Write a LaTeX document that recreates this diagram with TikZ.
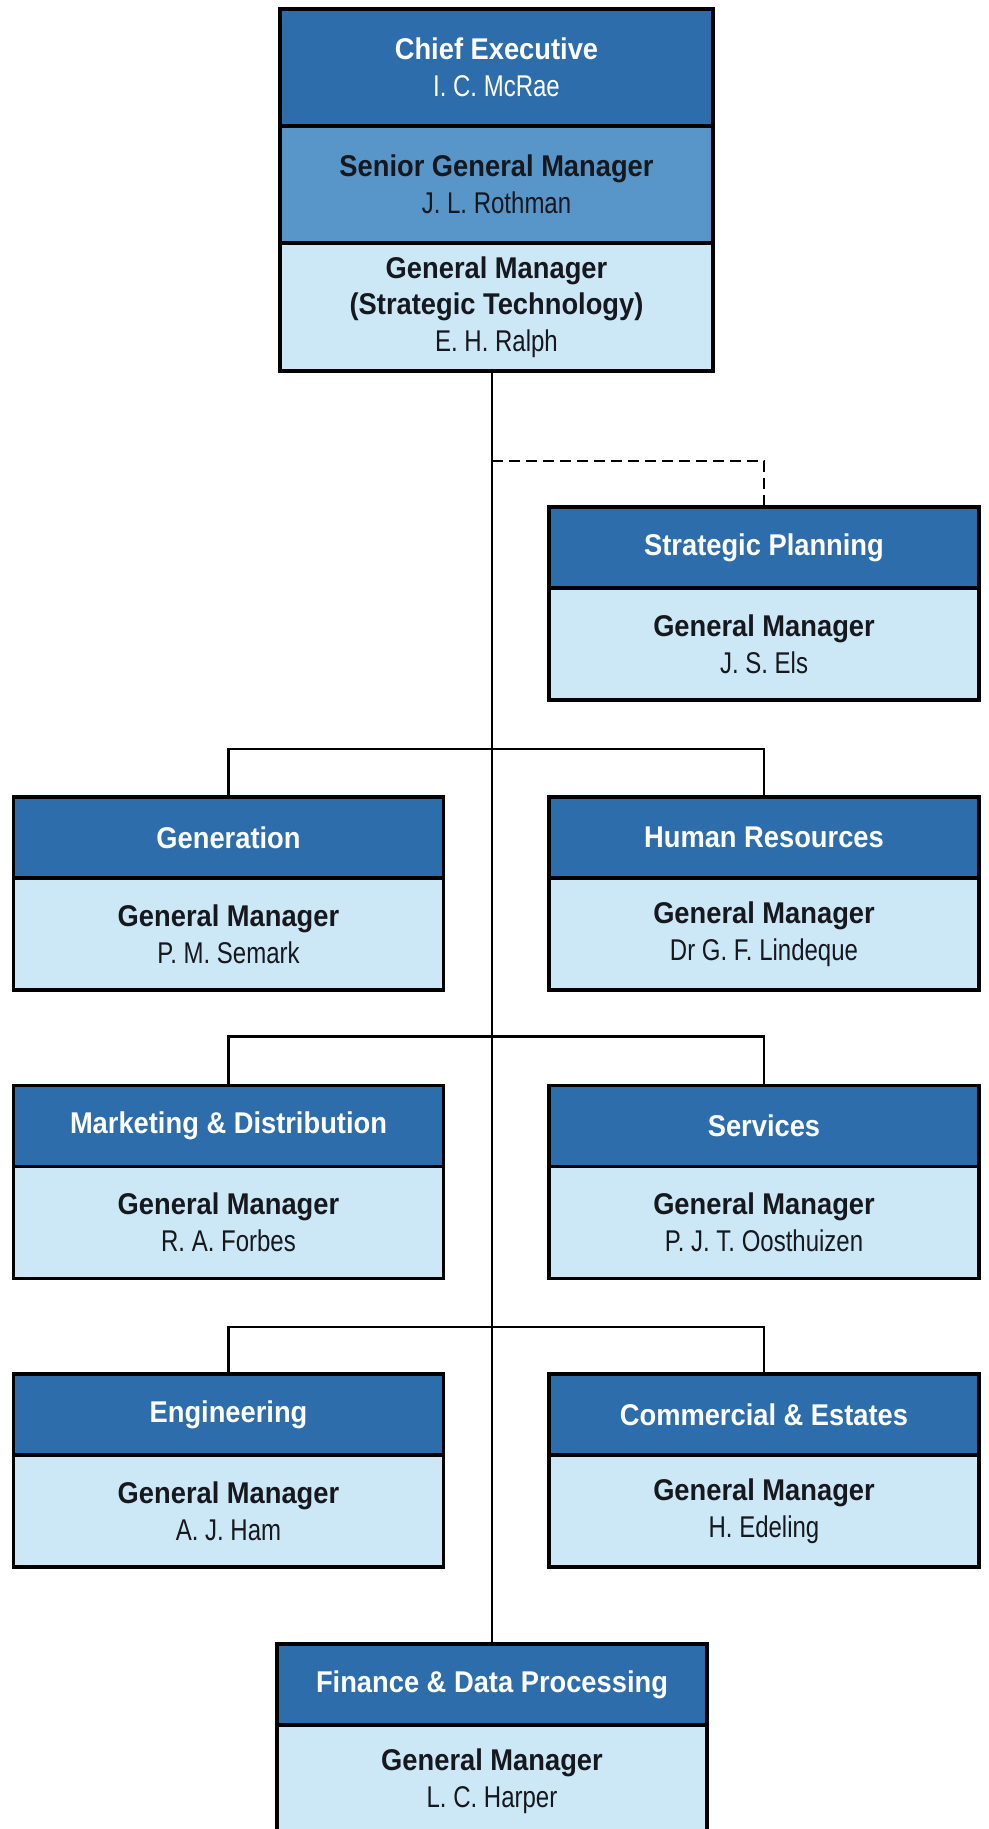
\documentclass[tikz,border=0pt]{standalone}
\usepackage{fontspec}
\setmainfont{Liberation Sans}[UprightFeatures={FakeStretch=0.80},BoldFeatures={FakeStretch=0.91}]
\usetikzlibrary{positioning}
\definecolor{deepblue}{RGB}{46,109,171}
\definecolor{midblue}{RGB}{88,150,201}
\definecolor{paleblue}{RGB}{204,232,247}
\definecolor{inkdark}{RGB}{22,24,30}
\def\gm#1{\textbf{General Manager}\\#1}

\begin{document}
\begin{tikzpicture}[x=0.5pt,y=-0.5pt,
    box/.style={draw=black,line width=1.7pt,outer sep=0pt,inner sep=0pt,align=center,
      minimum width=215pt,font=\fontsize{15}{18.3}\selectfont},
    head/.style={box,fill=deepblue,text=white,minimum height=40.5pt,font=\fontsize{15}{18.3}\selectfont\bfseries},
    body/.style={box,fill=paleblue,text=inkdark,minimum height=56pt},
    link/.style={line width=1.4pt},
    dashlink/.style={link,dash pattern=on 5.5pt off 3pt}]
  \useasboundingbox (0,0) rectangle (989,1829);
  % top box
  \node[box,fill=deepblue,text=white,minimum width=216.5pt,minimum height=58.5pt] (ce) at (496.5,67.5)
    {\textbf{Chief Executive}\\I. C. McRae};
  \node[box,fill=midblue,text=inkdark,minimum width=216.5pt,minimum height=58.5pt,below=0pt of ce] (sgm)
    {\textbf{Senior General Manager}\\J. L. Rothman};
  \node[box,fill=paleblue,text=inkdark,minimum width=216.5pt,minimum height=64pt,below=0pt of sgm] (gmst)
    {\textbf{General Manager}\\\textbf{(Strategic Technology)}\\E. H. Ralph};
  % divisions
  \node[head] (sp) at (764,547.5) {Strategic Planning};
  \node[body,below=0pt of sp] (spb) {\gm{J. S. Els}};
  \node[head] (gen) at (228.5,837.5) {Generation};
  \node[body,below=0pt of gen] (genb) {\gm{P. M. Semark}};
  \node[head] (hr) at (764,837.5) {Human Resources};
  \node[body,below=0pt of hr] (hrb) {\gm{Dr G. F. Lindeque}};
  \node[head] (mkt) at (228.5,1126) {Marketing \& Distribution};
  \node[body,below=0pt of mkt] (mktb) {\gm{R. A. Forbes}};
  \node[head] (srv) at (764,1126) {Services};
  \node[body,below=0pt of srv] (srvb) {\gm{P. J. T. Oosthuizen}};
  \node[head] (eng) at (228.5,1414.5) {Engineering};
  \node[body,below=0pt of eng] (engb) {\gm{A. J. Ham}};
  \node[head] (com) at (764,1414.5) {Commercial \& Estates};
  \node[body,below=0pt of com] (comb) {\gm{H. Edeling}};
  \node[head] (fin) at (492,1684.5) {Finance \& Data Processing};
  \node[body,below=0pt of fin] (finb) {\gm{L. C. Harper}};
  % connectors
  \draw[link] (fin.north |- gmst.south) -- (fin.north);
  \coordinate (spj) at (492,461);
  \draw[dashlink] (spj) -| (sp.north);
  \draw[link] (gen.north) -- ++(0,-48) -| (hr.north);
  \draw[link] (mkt.north) -- ++(0,-49) -| (srv.north);
  \draw[link] (eng.north) -- ++(0,-47) -| (com.north);
\end{tikzpicture}
\end{document}
